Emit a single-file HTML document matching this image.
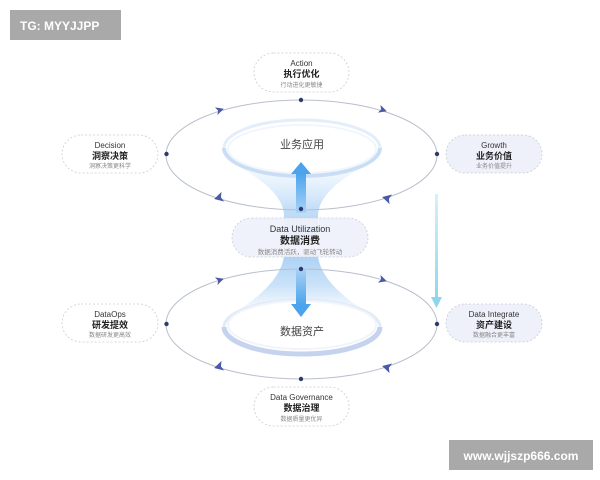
<!DOCTYPE html>
<html><head><meta charset="utf-8"><style>
html,body{margin:0;padding:0;background:#fff;}
svg{display:block;}
text{font-family:"Liberation Sans","Noto Sans CJK SC",sans-serif;}
</style></head><body>
<svg width="600" height="480" viewBox="0 0 600 480" xmlns="http://www.w3.org/2000/svg">
<defs>
<linearGradient id="funnelUp" x1="0" y1="0" x2="0" y2="1">
<stop offset="0" stop-color="#e8f2fd" stop-opacity="0.3"/>
<stop offset="0.6" stop-color="#b9d9f7"/>
<stop offset="1" stop-color="#9cc9f2"/>
</linearGradient>
<linearGradient id="funnelDn" x1="0" y1="0" x2="0" y2="1">
<stop offset="0" stop-color="#9cc9f2"/>
<stop offset="0.5" stop-color="#c3def8"/>
<stop offset="1" stop-color="#eef5fd" stop-opacity="0.3"/>
</linearGradient>
<linearGradient id="arr" x1="0" y1="0" x2="0" y2="1">
<stop offset="0" stop-color="#4aa3ec"/>
<stop offset="1" stop-color="#a9d2f6"/>
</linearGradient>
<linearGradient id="arr2" x1="0" y1="0" x2="0" y2="1">
<stop offset="0" stop-color="#a9d2f6"/>
<stop offset="1" stop-color="#4aa3ec"/>
</linearGradient>
<linearGradient id="cyan" x1="0" y1="0" x2="0" y2="1">
<stop offset="0" stop-color="#d6f1f8"/>
<stop offset="1" stop-color="#8fd6ec"/>
</linearGradient>
</defs>

<!-- funnel -->
<path d="M226 160 Q283 188 284 215 L284 240 L318 240 L318 215 Q319 188 376 160 Z" fill="url(#funnelUp)" opacity="0.85"/>
<path d="M284 255 L318 255 Q320 285 376 318 L226 318 Q282 285 284 255 Z" fill="url(#funnelDn)" opacity="0.85"/>

<!-- ellipses -->
<ellipse cx="301.5" cy="155" rx="135.5" ry="55" fill="none" stroke="#b8bfcc" stroke-width="1"/>
<ellipse cx="301.5" cy="324" rx="135.5" ry="55" fill="none" stroke="#b8bfcc" stroke-width="1"/>

<!-- inner rings -->
<ellipse cx="302" cy="148" rx="78" ry="28" fill="#fff" stroke="#e3eefa" stroke-width="3"/>
<path d="M224 148 A78 28 0 0 0 380 148" fill="none" stroke="#c9def5" stroke-width="4"/>
<ellipse cx="302" cy="149" rx="74" ry="24" fill="#fff" stroke="#f1f6fc" stroke-width="2"/>
<ellipse cx="302" cy="327" rx="78" ry="27" fill="#fff" stroke="#e3eaf7" stroke-width="3"/>
<path d="M224 327 A78 27 0 0 0 380 327" fill="none" stroke="#c5d3ee" stroke-width="5"/>
<ellipse cx="302" cy="325" rx="74" ry="24" fill="#fff" stroke="#f1f5fb" stroke-width="2"/>

<text x="302" y="148" font-size="11" fill="#444" text-anchor="middle">业务应用</text>
<text x="302" y="335" font-size="11" fill="#444" text-anchor="middle">数据资产</text>

<!-- up arrow -->
<rect x="296" y="173" width="10" height="40" fill="url(#arr)"/>
<polygon points="301,162 311,174 291,174" fill="#4aa3ec"/>
<!-- down arrow -->
<rect x="296" y="268" width="10" height="37" fill="url(#arr2)"/>
<polygon points="301,317 311,304 291,304" fill="#4aa3ec"/>

<!-- cyan arrow -->
<rect x="435" y="194" width="3" height="106" fill="url(#cyan)"/>
<polygon points="436.5,308 431,297 442,297" fill="#8fd6ec"/>

<!-- dots -->
<g fill="#2d3a6b">
<circle cx="301" cy="100" r="2.2"/><circle cx="301" cy="209" r="2.2"/>
<circle cx="166.5" cy="154" r="2.2"/><circle cx="437" cy="154" r="2.2"/>
<circle cx="301" cy="269" r="2.2"/><circle cx="301" cy="379" r="2.2"/>
<circle cx="166.5" cy="324" r="2.2"/><circle cx="437" cy="324" r="2.2"/>
</g>

<!-- arrowheads -->
<g fill="#4a5aa8">
<polygon points="224,110 216,106 218,110 216,114" transform="rotate(-18 220 110)"/>
<polygon points="387,110 379,106 381,110 379,114" transform="rotate(18 383 110)"/>
<polygon points="214,198 223,193 221,198 223,203" transform="rotate(-15 218 198)"/>
<polygon points="382,198 391,193 389,198 391,203" transform="rotate(15 386 198)"/>
<polygon points="224,280 216,276 218,280 216,284" transform="rotate(-18 220 280)"/>
<polygon points="387,280 379,276 381,280 379,284" transform="rotate(18 383 280)"/>
<polygon points="214,367 223,362 221,367 223,372" transform="rotate(-15 218 367)"/>
<polygon points="382,367 391,362 389,367 391,372" transform="rotate(15 386 367)"/>
</g>

<!-- boxes -->
<g stroke="#c8ccd4" stroke-width="0.8" stroke-dasharray="2,2">
<rect x="254" y="53" width="95" height="39" rx="19.5" fill="#fff"/>
<rect x="62" y="135" width="96" height="38" rx="19" fill="#fff"/>
<rect x="446" y="135" width="96" height="38" rx="19" fill="#eef0fa"/>
<rect x="232" y="218" width="136" height="39" rx="19.5" fill="#eef1fa" fill-opacity="0.92"/>
<rect x="62" y="304" width="96" height="38" rx="19" fill="#fff"/>
<rect x="446" y="304" width="96" height="38" rx="19" fill="#eef0fa"/>
<rect x="254" y="387" width="95" height="39" rx="19.5" fill="#fff"/>
</g>

<g text-anchor="middle">
<text x="301.5" y="66" font-size="8" fill="#333">Action</text>
<text x="301.5" y="77" font-size="9" font-weight="bold" fill="#222">执行优化</text>
<text x="301.5" y="87" font-size="6" fill="#888">行动进化更敏捷</text>

<text x="110" y="148" font-size="8" fill="#333">Decision</text>
<text x="110" y="159" font-size="9" font-weight="bold" fill="#222">洞察决策</text>
<text x="110" y="168" font-size="6" fill="#888">洞察决策更科学</text>

<text x="494" y="148" font-size="8" fill="#333">Growth</text>
<text x="494" y="159" font-size="9" font-weight="bold" fill="#222">业务价值</text>
<text x="494" y="168" font-size="6" fill="#888">业务价值提升</text>

<text x="300" y="232" font-size="9" fill="#333">Data Utilization</text>
<text x="300" y="244" font-size="10" font-weight="bold" fill="#222">数据消费</text>
<text x="300" y="254" font-size="6.5" fill="#888">数据消费活跃，驱动飞轮转动</text>

<text x="110" y="317" font-size="8" fill="#333">DataOps</text>
<text x="110" y="328" font-size="9" font-weight="bold" fill="#222">研发提效</text>
<text x="110" y="337" font-size="6" fill="#888">数据研发更高效</text>

<text x="494" y="317" font-size="8" fill="#333">Data Integrate</text>
<text x="494" y="328" font-size="9" font-weight="bold" fill="#222">资产建设</text>
<text x="494" y="337" font-size="6" fill="#888">数据融合更丰富</text>

<text x="301.5" y="400" font-size="8" fill="#333">Data Governance</text>
<text x="301.5" y="411" font-size="9" font-weight="bold" fill="#222">数据治理</text>
<text x="301.5" y="421" font-size="6" fill="#888">数据质量更优异</text>
</g>

<!-- watermarks -->
<rect x="10" y="10" width="111" height="30" fill="#a9a9a9"/>
<text x="20" y="30" font-size="12" font-weight="bold" fill="#fff">TG: MYYJJPP</text>
<rect x="449" y="440" width="144" height="30" fill="#a9a9a9"/>
<text x="521" y="460" font-size="12" font-weight="bold" fill="#fff" text-anchor="middle">www.wjjszp666.com</text>
</svg>
</body></html>
